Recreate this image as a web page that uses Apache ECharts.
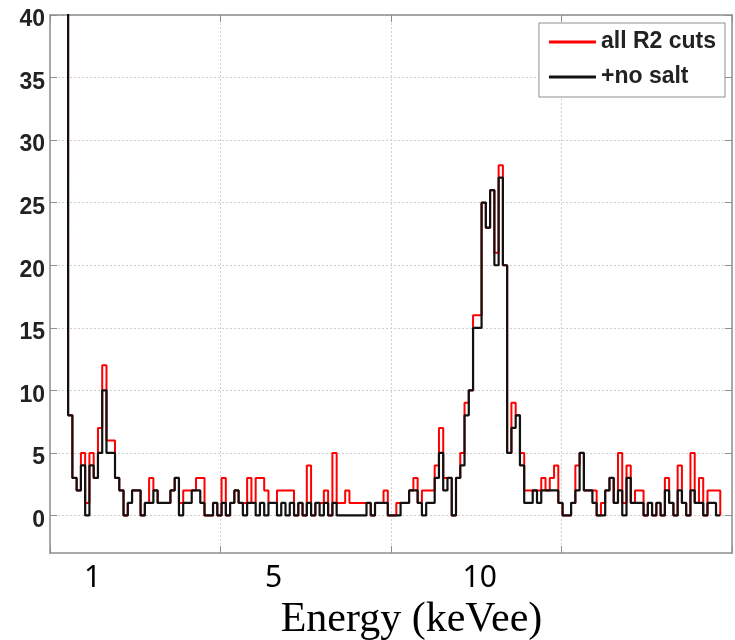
<!DOCTYPE html>
<html>
<head>
<meta charset="utf-8">
<script src="https://cdn.jsdelivr.net/npm/echarts@6/dist/echarts.min.js"></script>
<style>
  html, body { margin: 0; padding: 0; background: #ffffff; }
  #chart { width: 735px; height: 640px; }
</style>
</head>
<body>
<div id="chart"></div>
<script>
// Histogram binning (keVee): left edge of the first bin and bin width
const binStart = 0.325;
const binWidth = 0.1;

// Counts per bin, first bin is the low-energy spike (off scale)
const countsAllCuts = [
  52, 8, 3, 2, 5, 1, 5, 3, 7, 12,
  6, 6, 3, 2, 0, 1, 2, 2, 0, 1,
  3, 2, 1, 1, 1, 2, 3, 1, 2, 2,
  2, 3, 3, 0, 0, 1, 0, 3, 0, 1,
  2, 1, 1, 3, 1, 3, 3, 2, 1, 1,
  2, 2, 2, 2, 0, 1, 0, 4, 0, 1,
  1, 2, 0, 5, 1, 1, 2, 1, 1, 1,
  1, 1, 0, 1, 1, 2, 0, 0, 1, 1,
  1, 2, 3, 1, 2, 2, 2, 4, 7, 3,
  3, 0, 3, 5, 9, 10, 16, 16, 25, 23,
  26, 21, 28, 20, 5, 9, 8, 5, 2, 2,
  2, 2, 3, 2, 3, 4, 1, 0, 0, 1,
  4, 5, 2, 2, 2, 0, 1, 2, 3, 1,
  5, 1, 4, 1, 2, 2, 0, 1, 0, 1,
  0, 3, 1, 0, 4, 1, 0, 5, 1, 3,
  0, 2, 2, 2, 0
];

const countsNoSalt = [
  52, 8, 3, 2, 4, 0, 4, 3, 5, 10,
  5, 5, 3, 2, 0, 1, 2, 2, 0, 1,
  1, 2, 1, 1, 1, 2, 3, 0, 1, 1,
  2, 2, 1, 0, 0, 1, 0, 1, 0, 1,
  2, 1, 0, 1, 1, 0, 1, 0, 1, 1,
  0, 1, 0, 1, 0, 1, 0, 1, 0, 1,
  0, 1, 0, 1, 0, 0, 0, 0, 0, 0,
  0, 1, 0, 1, 1, 1, 0, 0, 0, 1,
  1, 2, 2, 1, 0, 1, 1, 3, 5, 2,
  3, 0, 3, 4, 8, 10, 15, 15, 25, 23,
  26, 20, 27, 20, 5, 7, 8, 4, 1, 1,
  2, 1, 2, 2, 2, 2, 1, 0, 0, 1,
  2, 5, 2, 2, 1, 0, 0, 2, 3, 1,
  2, 0, 3, 1, 1, 1, 0, 1, 0, 1,
  0, 2, 1, 0, 2, 1, 0, 2, 1, 1,
  0, 1, 1, 0, 0
];

const seriesNames = ['all R2 cuts', '+no salt'];
const yTicks = [0, 5, 10, 15, 20, 25, 30, 35, 40];
const xTickValues = [1, 5, 10];
const xTickLabels = ['1', '5', '10'];
const xTitle = 'Energy (keVee)';

// Build [edge, count] pairs for a stairs line
function stairs(counts) {
  return counts.map(function (c, i) { return [binStart + i * binWidth, c]; });
}

const AXIS_GRAY = '#8f8f8f';
const GRID_GRAY = '#cfcfcf';

const boxAxisLine = { show: true, onZero: false, lineStyle: { color: AXIS_GRAY, width: 1.5 } };

const chart = echarts.init(document.getElementById('chart'), null, { renderer: 'canvas' });

chart.setOption({
  animation: false,
  backgroundColor: '#ffffff',
  grid: { left: 50, right: 3, top: 15, bottom: 87, containLabel: false, outerBoundsMode: 'none' },
  legend: {
    data: seriesNames,
    orient: 'vertical',
    right: 10,
    top: 23,
    icon: 'rect',
    itemWidth: 47,
    itemHeight: 3,
    itemGap: 11,
    padding: [7, 9, 8, 10],
    backgroundColor: '#ffffff',
    borderColor: AXIS_GRAY,
    borderWidth: 1,
    borderRadius: 0,
    textStyle: {
      fontFamily: 'Liberation Sans',
      fontWeight: 'bold',
      fontSize: 23,
      lineHeight: 24,
      color: '#222222'
    }
  },
  xAxis: [
    {
      type: 'value',
      position: 'bottom',
      min: 0,
      max: 16,
      interval: 4,
      axisLine: boxAxisLine,
      axisTick: { show: true, inside: true, length: 7, lineStyle: { color: AXIS_GRAY } },
      splitLine: { show: true, lineStyle: { color: GRID_GRAY, type: [2, 2], width: 1 } },
      axisLabel: {
        show: true,
        customValues: xTickValues,
        margin: 10,
        formatter: function (v) {
          const i = xTickValues.indexOf(v);
          return '{t' + i + '|' + xTickLabels[i] + '}';
        },
        rich: {
          t0: { fontFamily: 'Noto Sans', fontSize: 30, color: '#000000' },
          t1: { fontFamily: 'Noto Sans', fontSize: 30, color: '#000000', padding: [0, 0, 0, 21] },
          t2: { fontFamily: 'Noto Sans', fontSize: 30, color: '#000000', padding: [0, 0, 0, 7] }
        }
      },
      name: xTitle,
      nameLocation: 'middle',
      nameGap: 46,
      nameTextStyle: {
        fontFamily: 'Liberation Serif',
        fontSize: 42,
        color: '#000000',
        padding: [0, 0, 0, 41]
      }
    },
    {
      type: 'value',
      position: 'top',
      min: 0,
      max: 16,
      interval: 4,
      axisLine: boxAxisLine,
      axisTick: { show: true, inside: true, length: 7, lineStyle: { color: AXIS_GRAY } },
      axisLabel: { show: false },
      splitLine: { show: false }
    }
  ],
  yAxis: [
    {
      type: 'value',
      position: 'left',
      min: -3,
      max: 40,
      axisLine: boxAxisLine,
      axisTick: { show: true, inside: true, length: 7, customValues: yTicks, lineStyle: { color: AXIS_GRAY } },
      splitLine: { show: true, lineStyle: { color: GRID_GRAY, type: [2, 2], width: 1 } },
      axisLabel: {
        show: true,
        customValues: yTicks,
        margin: 5,
        verticalAlign: 'top',
        lineHeight: 10,
        fontFamily: 'Liberation Sans',
        fontWeight: 'bold',
        fontSize: 23,
        color: '#222222'
      }
    },
    {
      type: 'value',
      position: 'right',
      min: -3,
      max: 40,
      axisLine: boxAxisLine,
      axisTick: { show: true, inside: true, length: 7, customValues: yTicks, lineStyle: { color: AXIS_GRAY } },
      axisLabel: { show: false },
      splitLine: { show: false }
    }
  ],
  series: [
    {
      name: seriesNames[0],
      type: 'line',
      step: 'end',
      xAxisIndex: 0,
      yAxisIndex: 0,
      data: stairs(countsAllCuts),
      symbol: 'none',
      clip: true,
      z: 2,
      lineStyle: { color: '#ff0000', width: 2 },
      itemStyle: { color: '#ff0000' }
    },
    {
      name: seriesNames[1],
      type: 'line',
      step: 'end',
      xAxisIndex: 0,
      yAxisIndex: 0,
      data: stairs(countsNoSalt),
      symbol: 'none',
      clip: true,
      z: 3,
      lineStyle: { color: '#111111', width: 2.2 },
      itemStyle: { color: '#111111' }
    }
  ]
});
</script>
</body>
</html>
